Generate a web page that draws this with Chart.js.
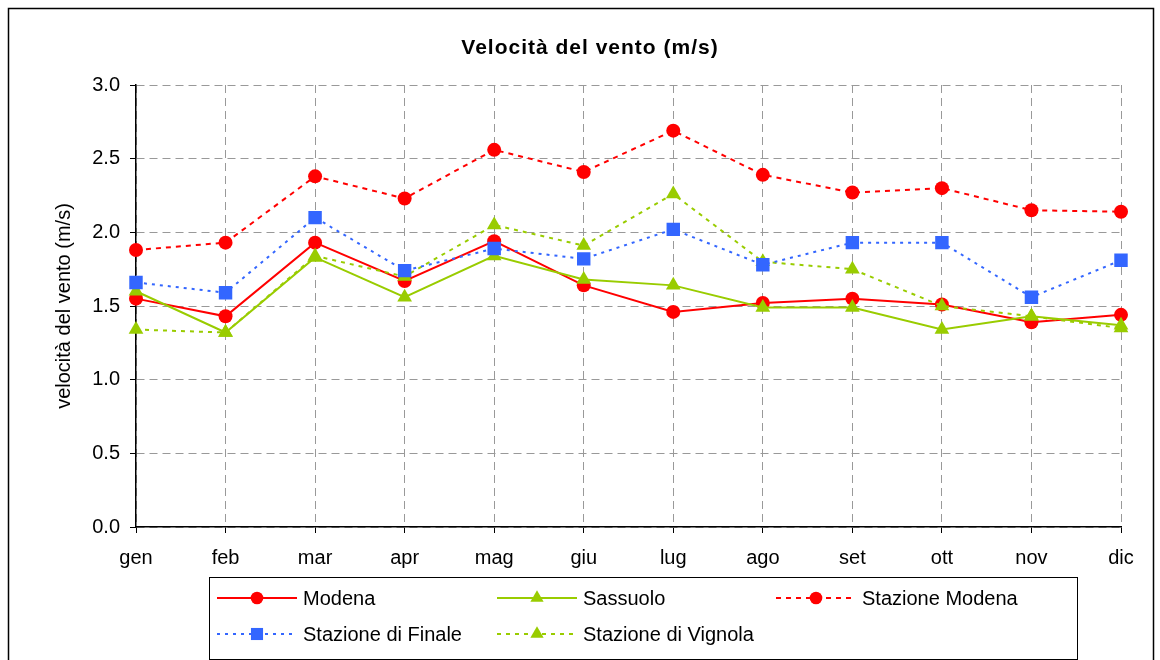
<!DOCTYPE html>
<html lang="it">
<head>
  <meta charset="UTF-8">
  <title>Velocità del vento</title>
  <style>
    html, body { margin: 0; padding: 0; background: #fff; }
    #wrap { width: 1160px; height: 660px; }
  </style>
</head>
<body>
  <div id="wrap"><canvas id="windChart" width="1160" height="660"></canvas></div>

  <script src="https://cdn.jsdelivr.net/npm/chart.js"></script>
  <script>
    // data
    const months = ['gen', 'feb', 'mar', 'apr', 'mag', 'giu', 'lug', 'ago', 'set', 'ott', 'nov', 'dic'];
    const modena = [1.55, 1.43, 1.93, 1.67, 1.94, 1.64, 1.46, 1.52, 1.55, 1.51, 1.39, 1.44];
    const sassuolo = [1.60, 1.32, 1.83, 1.56, 1.84, 1.68, 1.64, 1.49, 1.49, 1.34, 1.43, 1.37];
    const stazModena = [1.88, 1.93, 2.38, 2.23, 2.56, 2.41, 2.69, 2.39, 2.27, 2.30, 2.15, 2.14];
    const stazFinale = [1.66, 1.59, 2.10, 1.74, 1.89, 1.82, 2.02, 1.78, 1.93, 1.93, 1.56, 1.81];
    const stazVignola = [1.34, 1.32, 1.84, 1.70, 2.05, 1.91, 2.26, 1.80, 1.75, 1.50, 1.43, 1.35];
    const yTicks = [0, 0.5, 1.0, 1.5, 2.0, 2.5, 3.0];

    const RED = '#ff0000';
    const GREEN = '#99cc00';
    const BLUE = '#3366ff';
    const FONT = '"Liberation Sans", Arial, sans-serif';

    function series(label, data, color, style, radius, dash) {
      return {
        label: label,
        data: data,
        borderColor: color,
        backgroundColor: color,
        borderWidth: 2,
        borderDash: dash,
        pointStyle: style,
        pointRadius: radius,
        pointBorderWidth: 0,
        pointHoverRadius: radius,
        tension: 0
      };
    }

    const datasets = [
      series('Stazione Modena', stazModena, RED, 'circle', 7, [5, 5]),
      series('Stazione di Finale', stazFinale, BLUE, 'rect', 9.5, [3, 5]),
      series('Stazione di Vignola', stazVignola, GREEN, 'triangle', 8.5, [4, 5]),
      series('Sassuolo', sassuolo, GREEN, 'triangle', 8.5, []),
      series('Modena', modena, RED, 'circle', 7, [])
    ];

    // legend layout: [dataset label, column x, row y]
    const legendItems = [
      ['Modena', 217, 598],
      ['Sassuolo', 497, 598],
      ['Stazione Modena', 776, 598],
      ['Stazione di Finale', 217, 634],
      ['Stazione di Vignola', 497, 634]
    ];

    const framePlugin = {
      id: 'frame',
      afterDraw(chart) {
        const ctx = chart.ctx;
        ctx.save();
        // outer border
        ctx.strokeStyle = '#000';
        ctx.lineWidth = 1.5;
        ctx.strokeRect(8.5, 8.5, 1145, 700);

        // title
        ctx.fillStyle = '#000';
        ctx.font = 'bold 21px ' + FONT;
        ctx.letterSpacing = '1px';
        ctx.textAlign = 'center';
        ctx.textBaseline = 'middle';
        ctx.fillText('Velocità del vento (m/s)', 590, 48);
        ctx.letterSpacing = '0px';

        // legend box
        ctx.lineWidth = 1;
        ctx.strokeStyle = '#000';
        ctx.strokeRect(209.5, 577.5, 868, 82);

        ctx.font = '20px ' + FONT;
        ctx.textAlign = 'left';
        legendItems.forEach(([label, x, y]) => {
          const ds = chart.data.datasets.find(d => d.label === label);
          ctx.strokeStyle = ds.borderColor;
          ctx.fillStyle = ds.backgroundColor;
          ctx.lineWidth = 2;
          ctx.setLineDash(ds.borderDash);
          ctx.beginPath();
          ctx.moveTo(x, y);
          ctx.lineTo(x + 80, y);
          ctx.stroke();
          ctx.setLineDash([]);
          Chart.helpers.drawPoint(ctx, {
            pointStyle: ds.pointStyle,
            radius: ds.pointRadius * 0.9,
            rotation: 0,
            borderWidth: 0
          }, x + 40, y);
          ctx.fillStyle = '#000';
          ctx.fillText(label, x + 86, y + 1);
        });
        ctx.restore();
      }
    };

    const gridOpts = {
      color: '#999',
      tickLength: 6,
      tickColor: '#000',
      tickBorderDash: []
    };

    new Chart(document.getElementById('windChart'), {
      type: 'line',
      data: { labels: months, datasets: datasets },
      plugins: [framePlugin],
      options: {
        responsive: false,
        animation: false,
        layout: { padding: { top: 85, right: 39, bottom: 91, left: 0 } },
        plugins: {
          legend: { display: false },
          title: { display: false },
          tooltip: { enabled: false }
        },
        scales: {
          x: {
            offset: false,
            afterFit(s) { s.height = 42; },
            grid: gridOpts,
            border: { display: true, color: '#000', width: 1.5, dash: [8, 5] },
            ticks: { color: '#000', font: { family: FONT, size: 20 }, padding: 13, maxRotation: 0 }
          },
          y: {
            min: 0,
            max: 3,
            afterFit(s) { s.width = 136; },
            afterBuildTicks(s) { s.ticks = yTicks.map(v => ({ value: v })); },
            grid: gridOpts,
            border: { display: true, color: '#000', width: 1.5, dash: [8, 5] },
            ticks: {
              color: '#000',
              font: { family: FONT, size: 20 },
              padding: 10,
              callback: v => v.toFixed(1)
            },
            title: {
              display: true,
              text: 'velocità del vento (m/s)',
              color: '#000',
              font: { family: FONT, size: 20 },
              padding: { top: 52, bottom: 0 }
            }
          }
        }
      }
    });
  </script>
</body>
</html>
